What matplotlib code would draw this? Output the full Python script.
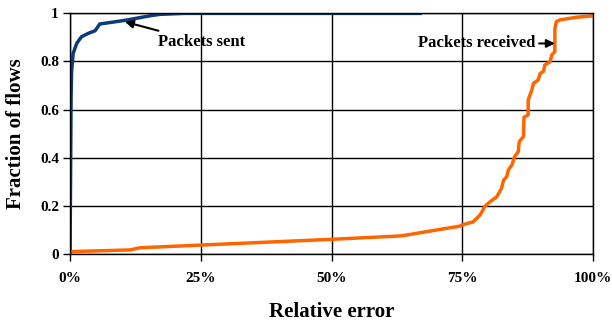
import matplotlib
matplotlib.use("Agg")
import matplotlib.pyplot as plt
from matplotlib.ticker import FuncFormatter

plt.rcParams['font.family'] = ['Liberation Serif', 'DejaVu Serif']
plt.rcParams['font.weight'] = 'bold'

# Packets sent CDF (relative error, fraction of flows)
sent_x = [0.0, 0.001, 0.002, 0.003, 0.006, 0.013, 0.022, 0.035, 0.048, 0.057,
          0.08, 0.108, 0.153, 0.172, 0.22, 0.67]
sent_y = [0.0, 0.30, 0.647, 0.758, 0.834, 0.876, 0.903, 0.917, 0.928, 0.956,
          0.963, 0.972, 0.99, 0.996, 1.0, 1.0]

# Packets received CDF
recv_x = [0.0, 0.003, 0.115, 0.134, 0.249, 0.50, 0.631, 0.644, 0.682, 0.746,
          0.749, 0.771, 0.784, 0.793, 0.803, 0.816, 0.825, 0.829, 0.835, 0.838,
          0.845, 0.850, 0.857, 0.859, 0.867, 0.868, 0.876, 0.876, 0.883, 0.886,
          0.895, 0.899, 0.905, 0.908, 0.918, 0.921, 0.927, 0.927, 0.930, 0.937,
          0.969, 1.0]
recv_y = [0.005, 0.01, 0.017, 0.026, 0.037, 0.061, 0.075, 0.079, 0.093, 0.116,
          0.12, 0.134, 0.162, 0.197, 0.217, 0.238, 0.273, 0.307, 0.321, 0.349,
          0.37, 0.404, 0.425, 0.467, 0.488, 0.568, 0.578, 0.64, 0.682, 0.709,
          0.723, 0.751, 0.758, 0.786, 0.799, 0.827, 0.841, 0.935, 0.966, 0.973,
          0.984, 0.99]

fig = plt.figure(figsize=(6.12, 3.23), dpi=100)
ax = fig.add_axes([0.1144, 0.2136, 0.8546, 0.745])

ax.plot(sent_x, sent_y, color='#0B3B78', lw=2.5, solid_joinstyle='round')
ax.plot(recv_x, recv_y, color='#FF6600', lw=2.5, solid_joinstyle='round')

ax.set_xlim(0, 1)
ax.set_ylim(0, 1)
ax.set_xticks([0, 0.25, 0.5, 0.75, 1.0])
ax.set_yticks([0, 0.2, 0.4, 0.6, 0.8, 1.0])
ax.xaxis.set_major_formatter(FuncFormatter(lambda v, p: '%d%%' % round(v * 100)))
ax.yaxis.set_major_formatter(FuncFormatter(lambda v, p: '0' if v == 0 else ('1' if v == 1 else '%.1f' % v)))
ax.grid(True, color='black', lw=1)
for s in ax.spines.values():
    s.set_color('black')
    s.set_linewidth(1)
ax.tick_params(direction='out', length=5, width=1, labelsize=11)
ax.tick_params(axis='x', pad=8)
ax.tick_params(axis='y', pad=3)

ax.set_xlabel('Relative error', fontsize=15, fontweight='bold', labelpad=12)
ax.set_ylabel('Fraction of flows', fontsize=15, fontweight='bold', labelpad=10)

ax.annotate('Packets sent', xy=(0.105, 0.965), xytext=(0.168, 0.88),
            fontsize=12, fontweight='bold', ha='left', va='center',
            arrowprops=dict(arrowstyle='-|>', color='black', lw=1.5, shrinkA=2, shrinkB=0))
ax.annotate('Packets received', xy=(0.927, 0.875), xytext=(0.889, 0.875),
            fontsize=12, fontweight='bold', ha='right', va='center',
            arrowprops=dict(arrowstyle='-|>', color='black', lw=1.5, shrinkA=1, shrinkB=0))

fig.savefig('out.png', dpi=100)
